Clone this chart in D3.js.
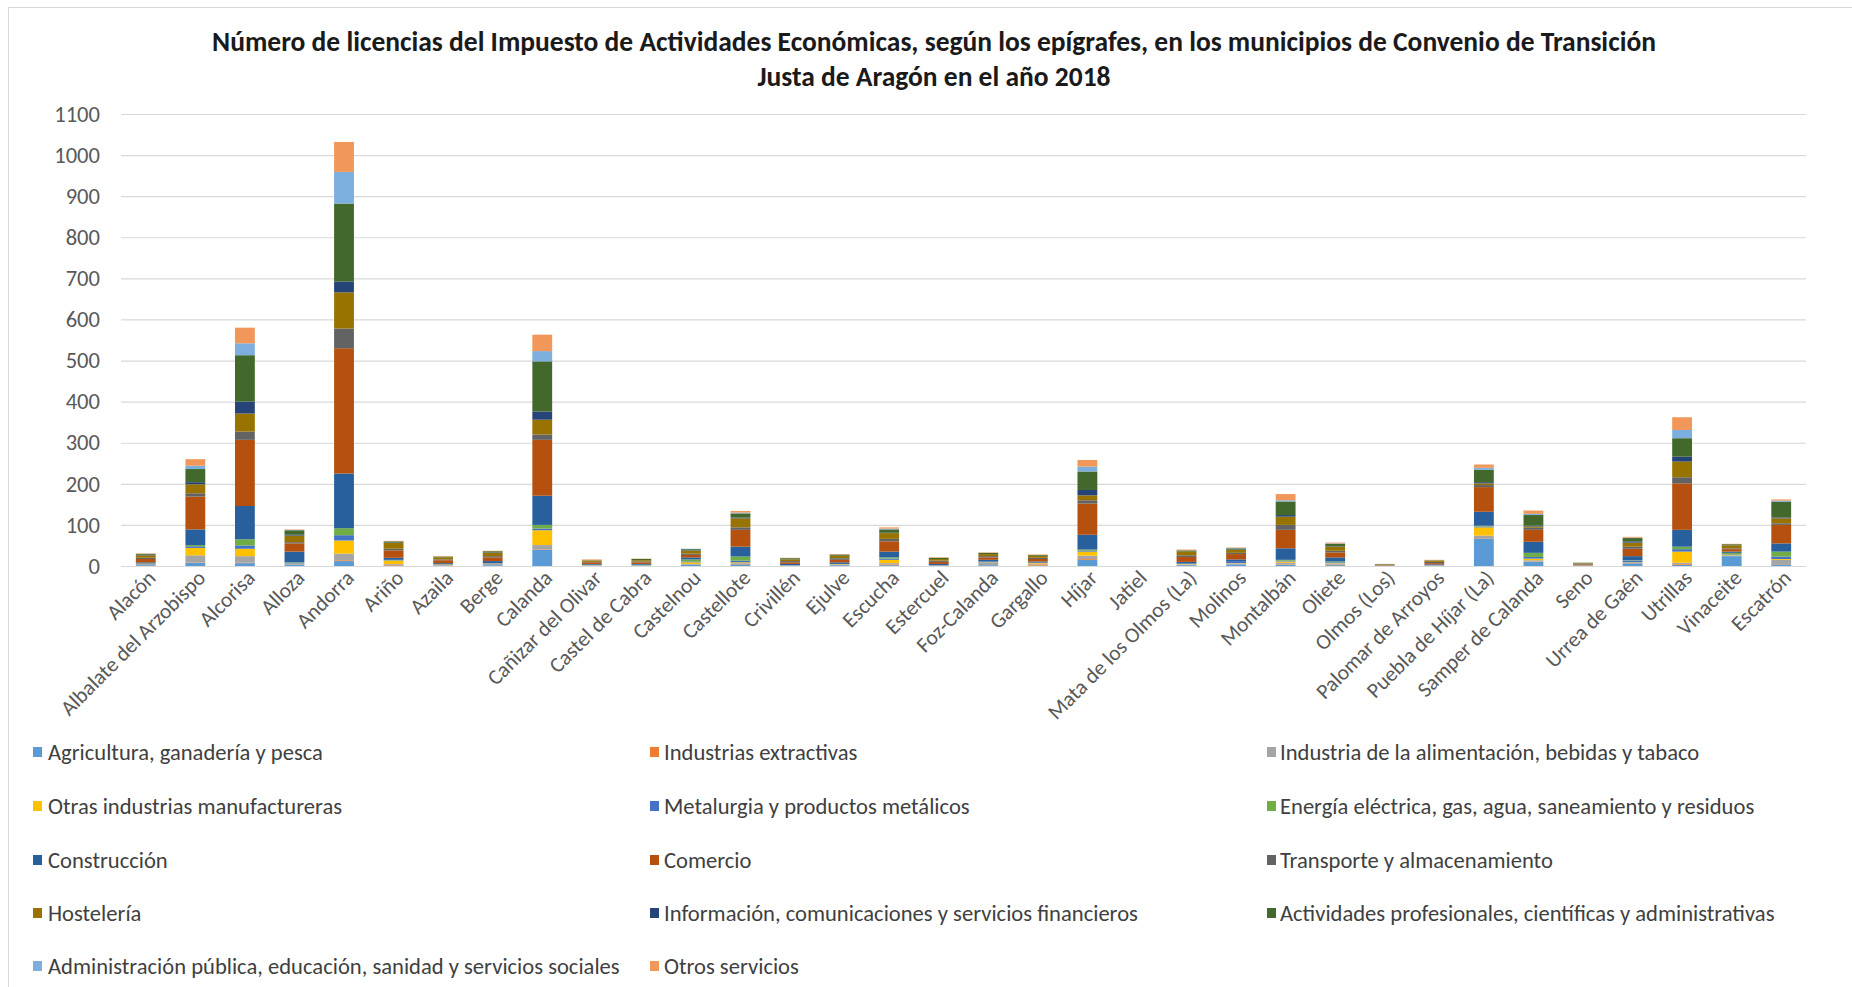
<!DOCTYPE html>
<html><head><meta charset="utf-8">
<script src="https://cdn.jsdelivr.net/npm/d3@7"></script>
<style>body{margin:0;background:#fff;} svg{display:block;}</style>
</head><body>
<svg id="c" width="1852" height="987"></svg>
<script>
const categories = ["Alacón","Albalate del Arzobispo","Alcorisa","Alloza","Andorra","Ariño","Azaila","Berge","Calanda","Cañizar del Olivar","Castel de Cabra","Castelnou","Castellote","Crivillén","Ejulve","Escucha","Estercuel","Foz-Calanda","Gargallo","Híjar","Jatiel","Mata de los Olmos (La)","Molinos","Montalbán","Oliete","Olmos (Los)","Palomar de Arroyos","Puebla de Híjar (La)","Samper de Calanda","Seno","Urrea de Gaén","Utrillas","Vinaceite","Escatrón"];

const seriesNames = ["Agricultura, ganadería y pesca","Industrias extractivas","Industria de la alimentación, bebidas y tabaco","Otras industrias manufactureras","Metalurgia y productos metálicos","Energía eléctrica, gas, agua, saneamiento y residuos","Construcción","Comercio","Transporte y almacenamiento","Hostelería","Información, comunicaciones y servicios financieros","Actividades profesionales, científicas y administrativas","Administración pública, educación, sanidad y servicios sociales","Otros servicios"];

const agricultura   = [2,8,7,3,12,1,1,2,40,1,1,3,4,1,2,2,1,2,1,15,0,2,4,3,2,0,1,67,10,0,5,3,24,4];
const extractivas   = [0,1,1,0,2,2,0,0,1,0,0,0,1,0,0,2,0,0,3,2,0,0,0,1,1,0,0,1,1,0,0,2,0,1];
const alimentacion  = [3,17,16,2,16,2,2,3,10,1,1,2,2,1,2,3,1,6,2,8,0,2,2,4,3,1,1,6,3,2,3,3,2,10];
const otrasInd      = [1,18,18,1,32,8,1,1,36,1,0,4,2,0,1,8,0,1,2,10,0,1,1,3,1,0,0,20,4,0,1,27,1,2];
const metalurgia    = [0,4,8,2,13,1,0,1,4,0,0,2,4,0,0,3,0,2,0,2,0,1,5,2,2,0,0,2,4,0,4,6,1,6];
const energia       = [0,3,15,1,17,1,0,0,9,0,1,5,10,0,0,3,0,0,0,3,0,0,0,2,2,0,0,2,10,0,1,6,4,12];
const construccion  = [3,38,81,26,133,5,3,5,71,2,2,5,24,3,4,14,3,4,3,36,0,4,4,28,10,0,2,34,27,0,10,41,3,20];
const comercio      = [8,80,161,20,305,18,7,9,136,4,4,6,41,4,6,25,5,6,6,76,0,12,13,45,12,1,3,60,29,2,18,113,6,45];
const transporte    = [3,8,20,3,48,4,2,3,13,1,2,3,6,3,4,6,3,3,3,8,0,4,3,12,4,1,3,5,5,2,5,15,2,4];
const hosteleria    = [6,22,44,16,88,14,5,8,36,3,3,7,22,4,6,14,4,5,5,12,0,9,7,20,10,1,3,4,3,1,10,38,7,12];
const informacion   = [1,5,29,2,26,1,0,1,20,0,0,1,2,0,0,1,0,0,0,13,0,0,1,4,1,0,0,3,2,0,3,12,0,2];
const actividades   = [2,32,113,11,190,3,2,3,122,1,3,3,10,3,3,8,3,3,2,45,0,3,3,33,6,1,1,30,26,1,8,45,3,38];
const administracion= [1,8,29,1,77,0,0,0,25,0,0,1,2,0,0,2,0,0,0,12,0,0,1,3,1,0,0,5,3,0,1,20,0,3];
const otrosServicios= [1,16,38,1,73,1,1,1,40,2,1,0,4,1,1,3,1,1,1,16,0,2,1,15,2,0,1,8,8,0,2,31,1,3];

const yTicks = [0,100,200,300,400,500,600,700,800,900,1000,1100];
const titleLines = ["Número de licencias del Impuesto de Actividades Económicas, según los epígrafes, en los municipios de Convenio de Transición","Justa de Aragón en el año 2018"];

const seriesColors = ["#5B9BD5","#ED7D31","#A5A5A5","#FFC000","#4472C4","#70AD47","#28609E","#B5500F","#636363","#997300","#264478","#43682B","#7CAFDD","#F1975A"];

const seriesValues = [agricultura,extractivas,alimentacion,otrasInd,metalurgia,energia,construccion,comercio,transporte,hosteleria,informacion,actividades,administracion,otrosServicios];

// table for d3.stack
const table = categories.map((c,i)=>{
  const row = {cat:c};
  seriesNames.forEach((s,j)=>{ row[s] = seriesValues[j][i]; });
  return row;
});

const W = 1852, H = 987;
const FONT = "Carlito, Calibri, Lato, 'Open Sans', sans-serif";
const svg = d3.select('#c');

svg.append('rect').attr('x',8.5).attr('y',7.5).attr('width',W+20).attr('height',H+20)
  .attr('fill','#fff').attr('stroke','#d9d9d9').attr('stroke-width',1);

const m = {left:121, right:1806, top:114, bottom:566};
const x = d3.scaleBand().domain(categories).range([m.left,m.right]).paddingInner(0.6).paddingOuter(0.3);
const y = d3.scaleLinear().domain([0,1100]).range([m.bottom,m.top]);

function fitSize(text, target, weight){
  const t = svg.append('text').attr('font-family',FONT).attr('font-size',100).attr('font-weight',weight||'normal').text(text);
  const len = t.node().getComputedTextLength();
  t.remove();
  return 100*target/len;
}
const baseSize = fitSize(seriesNames[12], 572);
const titleSize = fitSize(titleLines[0], 1444, 'bold');

// y axis with gridlines
const yAxis = svg.append('g').attr('transform',`translate(${m.left},0)`)
  .call(d3.axisLeft(y).tickValues(yTicks).tickSize(-(m.right-m.left)).tickPadding(21).tickFormat(d3.format('d')));
yAxis.select('.domain').remove();
yAxis.selectAll('.tick line').attr('stroke','#d9d9d9').attr('stroke-width',1.2);
yAxis.selectAll('.tick text').attr('font-family',FONT).attr('font-size',baseSize).attr('fill','#595959');

// bars
const stack = d3.stack().keys(seriesNames)(table);
svg.append('g').selectAll('g').data(stack).join('g')
  .attr('fill',(d,i)=>seriesColors[i])
  .selectAll('rect').data(d=>d).join('rect')
  .attr('x',d=>x(d.data.cat))
  .attr('width',x.bandwidth())
  .attr('y',d=>y(d[1]))
  .attr('height',d=>Math.max(0,y(d[0])-y(d[1])));

// x axis
const xAxis = svg.append('g').attr('transform',`translate(0,${m.bottom})`)
  .call(d3.axisBottom(x).tickSize(0).tickSizeOuter(0));
xAxis.select('.domain').attr('stroke','#d9d9d9').attr('stroke-width',1.2);
xAxis.selectAll('.tick text')
  .attr('font-family',FONT).attr('font-size',baseSize*0.95).attr('fill','#595959')
  .attr('x',0).attr('y',0).attr('dy','0.35em')
  .attr('text-anchor','end')
  .attr('transform','translate(6,8) rotate(-45)');

// title
svg.append('g').selectAll('text').data(titleLines).join('text')
  .attr('x',934).attr('y',(d,i)=>51+i*35)
  .attr('text-anchor','middle')
  .attr('font-family',FONT).attr('font-weight','bold').attr('font-size',titleSize)
  .attr('fill','#1a1a1a').text(d=>d);

// legend
const colSw = [33,650,1267], colTx = [48,664,1280], rowY = [752,806,860,913,966];
const lg = svg.append('g').selectAll('g').data(seriesNames).join('g')
  .attr('transform',(d,i)=>`translate(0,${rowY[Math.floor(i/3)]})`);
lg.append('rect').attr('x',(d,i)=>colSw[i%3]).attr('y',-5).attr('width',9).attr('height',10)
  .attr('fill',(d,i)=>seriesColors[i]);
lg.append('text').attr('x',(d,i)=>colTx[i%3]).attr('dy','0.35em')
  .attr('font-family',FONT).attr('font-size',baseSize).attr('fill','#404040').text(d=>d);
</script>
</body></html>
